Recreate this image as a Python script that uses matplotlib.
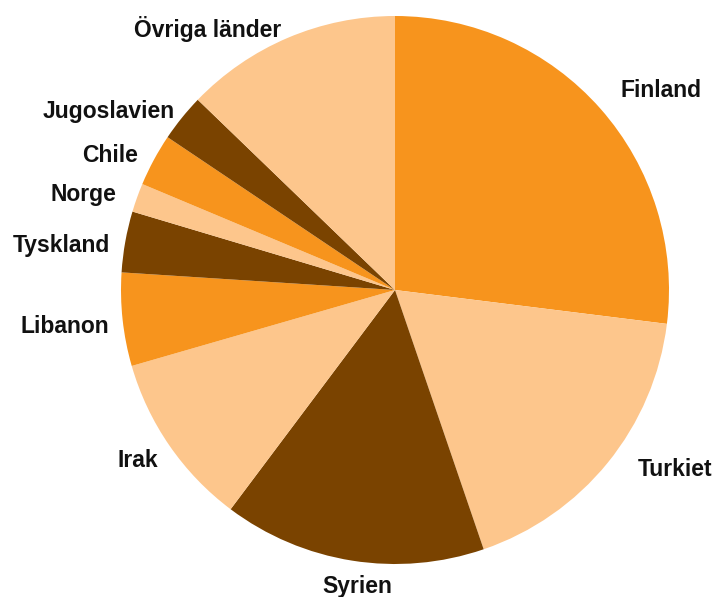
import matplotlib
matplotlib.use("Agg")
import matplotlib.pyplot as plt

# Data
countries = ["Finland", "Turkiet", "Syrien", "Irak", "Libanon", "Tyskland",
             "Norge", "Chile", "Jugoslavien", "Övriga länder"]
shares = [27.0, 17.8, 15.5, 10.3, 5.5, 3.6, 1.7, 3.1, 2.8, 12.8]

ORANGE = "#F7941D"
LIGHT = "#FDC68C"
BROWN = "#7A4300"
colors = [ORANGE, LIGHT, BROWN, LIGHT, ORANGE, BROWN, LIGHT, ORANGE, BROWN, LIGHT]

# label anchor positions in pixels (center x, baseline y)
label_px = [(661, 97), (675, 476), (357, 593), (138, 467), (65, 333),
            (61, 252), (83, 201), (110, 162), (109, 118), (208, 37)]

W, H = 717, 597
CX, CY, R = 395, 290, 274

fig = plt.figure(figsize=(W / 100, H / 100), dpi=100)
ax = fig.add_axes([0, 0, 1, 1])
ax.pie(shares, colors=colors, startangle=90, counterclock=False,
       radius=1.0, center=(0, 0),
       wedgeprops=dict(linewidth=0, edgecolor="none"))
ax.set_xlim(-CX / R, (W - CX) / R)
ax.set_ylim((CY - H) / R, CY / R)
ax.set_aspect("auto")
ax.axis("off")

for name, (px, py) in zip(countries, label_px):
    ax.text((px - CX) / R, (CY - py) / R, name, ha="center", va="baseline",
            fontsize=16.5, fontweight="bold", color="#111111",
            family=["Liberation Sans", "DejaVu Sans"])

fig.savefig("out.png", dpi=100, facecolor="white")
